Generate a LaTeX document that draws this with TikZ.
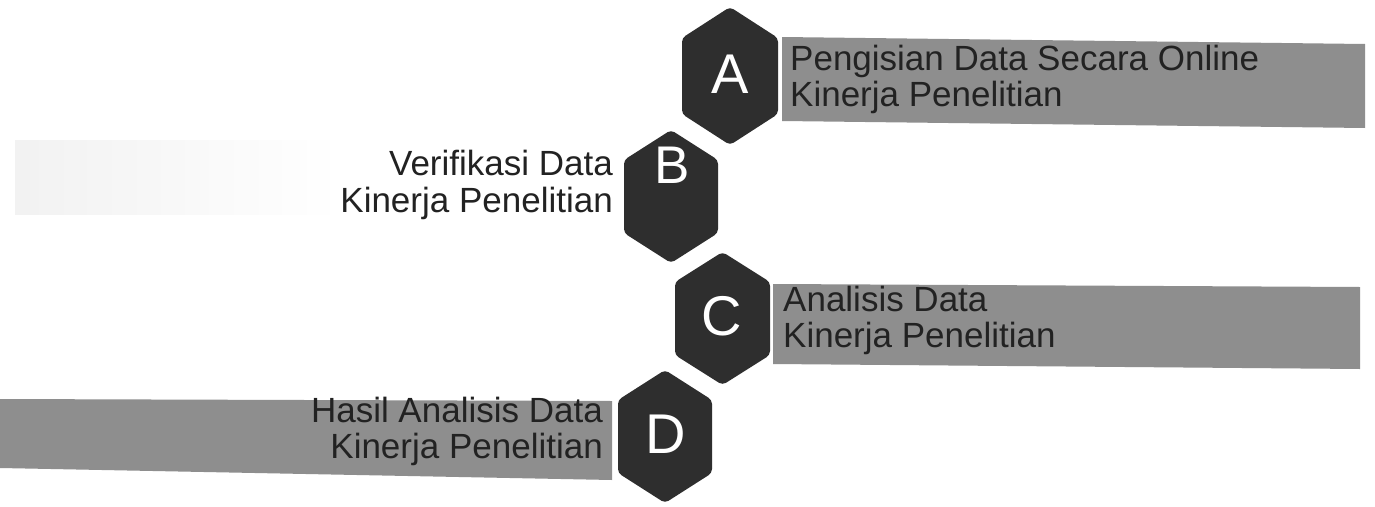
\documentclass[tikz,border=0pt]{standalone}
\usepackage{fontspec}
\setmainfont{Liberation Sans}
\usetikzlibrary{fadings}
\definecolor{hexdark}{HTML}{2E2E2E}
\definecolor{bandgray}{HTML}{8E8E8E}
\definecolor{txtdark}{HTML}{222222}
\tikzset{
  hexfill/.style={fill=hexdark, rounded corners=4pt},
  band/.style={fill=bandgray},
  letter/.style={text=white, font=\fontsize{56}{56}\selectfont, inner sep=0pt, anchor=base},
  labL/.style={text=txtdark, font=\fontsize{35}{35}\selectfont, inner sep=0pt, anchor=base west},
  labR/.style={text=txtdark, font=\fontsize{35}{35}\selectfont, inner sep=0pt, anchor=base east},
}
\begin{document}
\begin{tikzpicture}[x=1pt,y=-1pt]
\useasboundingbox (0,0) rectangle (1375,506);
\fill[white] (0,0) rectangle (1375,506);
% bands
\fill[band] (782,37) -- (1365,44) -- (1365,128) -- (782,121) -- cycle;
\fill[band] (773,284) -- (1360,287) -- (1360,369) -- (773,364) -- cycle;
\fill[band] (0,399) -- (612,401) -- (612,480) -- (0,468) -- cycle;
\fill[black!5, path fading=east] (15,140) rectangle (330,215);
% hexagons
\fill[hexfill] (730,7) -- ++(48,31) -- ++(0,76) -- ++(-48,31) -- ++(-48,-31) -- ++(0,-76) -- cycle;
\fill[hexfill] (671,130) -- ++(47,30) -- ++(0,73) -- ++(-47,30) -- ++(-47,-30) -- ++(0,-73) -- cycle;
\fill[hexfill] (722.5,252) -- ++(47.5,30) -- ++(0,73) -- ++(-47.5,30) -- ++(-47.5,-30) -- ++(0,-73) -- cycle;
\fill[hexfill] (665,370) -- ++(47,30) -- ++(0,73) -- ++(-47,30) -- ++(-47,-30) -- ++(0,-73) -- cycle;
% letters
\node[letter] (A) at (730,93) {A};
\node[letter, font=\fontsize{53}{53}\selectfont] (B) at (672,183) {B};
\node[letter] (C) at (722,335) {C};
\node[letter] (D) at (666,453) {D};
% labels
\node[labL] (a1) at (790,70) {Pengisian Data Secara Online};
\node[labL] (a2) at (790,106) {Kinerja Penelitian};
\node[labR] (b1) at (613,175) {Verifikasi Data};
\node[labR] (b2) at (613,212) {Kinerja Penelitian};
\node[labL] (c1) at (783,311) {Analisis Data};
\node[labL] (c2) at (783,347) {Kinerja Penelitian};
\node[labR] (d1) at (603,422) {Hasil Analisis Data};
\node[labR] (d2) at (603,458) {Kinerja Penelitian};
\end{tikzpicture}
\end{document}
